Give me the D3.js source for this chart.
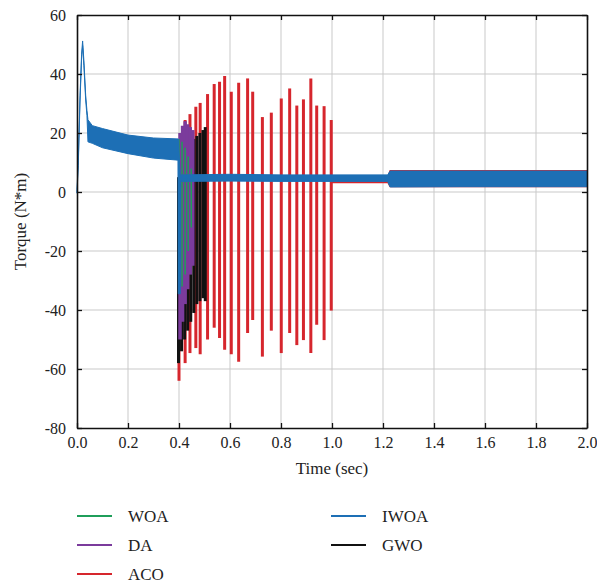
<!DOCTYPE html>
<html>
<head>
<meta charset="utf-8">
<script src="https://cdn.jsdelivr.net/npm/d3@7"></script>
<style>
  body { margin: 0; background: #fff; }
</style>
</head>
<body>
<div class="chart"></div>
<script>
var svgWidth = 597;
var svgHeight = 586;
var serif = "Liberation Serif, Times New Roman, serif";

var margin = { top: 15, right: 10, bottom: 158, left: 77 };
var width = svgWidth - margin.left - margin.right;
var height = svgHeight - margin.top - margin.bottom;

// tick labels
var xTicks = [0, 0.2, 0.4, 0.6, 0.8, 1.0, 1.2, 1.4, 1.6, 1.8, 2.0];
var yTicks = [-80, -60, -40, -20, 0, 20, 40, 60];

// IWOA envelope (upper / lower edge of the noisy trace)
var iwoaTime = [0, 0.005, 0.012, 0.018, 0.022, 0.027, 0.034, 0.039, 0.043, 0.06, 0.1, 0.2, 0.3, 0.396, 0.397, 0.405, 0.406, 0.6, 0.8, 1.0, 1.218, 1.228, 1.5, 2.0];
var iwoaHigh = [0.8, 10.6, 32.8, 46.7, 51.2, 44.5, 32.8, 27.6, 24.5, 22.5, 21.5, 19.3, 18.3, 18.0, 18.0, 5.8, 5.8, 6.0, 5.8, 5.8, 5.8, 7.1, 7.1, 7.1];
var iwoaLow  = [-0.4, 9.0, 31.2, 45.1, 49.6, 42.9, 31.2, 26.0, 17.0, 16.5, 15.0, 13.0, 11.5, 10.8, -34.5, -34.5, 3.6, 3.7, 3.6, 3.6, 3.6, 1.7, 1.8, 1.8];

// ACO steady trace after the oscillation (mostly hidden under IWOA)
var acoBandTime = [1.0, 1.218, 1.226, 2.0];
var acoBandHigh = [5.5, 5.5, 7.5, 7.5];
var acoBandLow  = [3.0, 3.0, 1.6, 1.6];

// ACO oscillation peaks: time, max, min
var acoTime = [0.400, 0.424, 0.443, 0.466, 0.483, 0.512, 0.538, 0.559, 0.579, 0.605, 0.634, 0.669, 0.689, 0.727, 0.762, 0.801, 0.834, 0.862, 0.888, 0.917, 0.940, 0.969, 0.997];
var acoHigh = [5, 24.4, 26.4, 28.9, 30.2, 33.2, 36.6, 37.4, 39.3, 34.0, 37.0, 38.5, 34.0, 25.4, 26.9, 31.7, 35.1, 29.3, 31.4, 38.5, 29.3, 29.1, 24.4];
var acoLow  = [-64, -58, -54.6, -52.9, -55, -50, -46, -49.5, -53.5, -55, -57.5, -47.8, -43.4, -55.8, -47, -54.6, -47.8, -51.9, -50.2, -54.6, -45, -50.2, -40.2];

// GWO oscillation
var gwoTime = [0.398, 0.41, 0.422, 0.434, 0.446, 0.458, 0.47, 0.482, 0.494, 0.503];
var gwoHigh = [5, 8, 10, 13, 16, 18, 19, 20, 21, 22];
var gwoLow  = [-58, -54, -50, -47, -44, -41, -38, -37, -36, -37];

// DA oscillation
var daTime = [0.404, 0.414, 0.424, 0.434, 0.444, 0.454];
var daHigh = [20, 22.5, 24, 23, 22, 21];
var daLow  = [-50, -44, -38, -33, -28, -25];

// WOA oscillation
var woaTime = [0.400, 0.412, 0.424, 0.436, 0.448];
var woaHigh = [18, 17, 15, 12, 8];
var woaLow  = [-30, -32, -28, -20, -12];

var names  = ["WOA", "DA", "ACO", "IWOA", "GWO"];
var colors = { WOA: "#1f9e5a", DA: "#7b3b9c", ACO: "#d6262d", IWOA: "#1d6fb5", GWO: "#111111" };

var svg = d3.select(".chart")
  .append("svg")
  .attr("width", svgWidth)
  .attr("height", svgHeight);

var chartGroup = svg.append("g")
  .attr("transform", `translate(${margin.left}, ${margin.top})`);

var xScale = d3.scaleLinear().domain([0, 2]).range([0, width]);
var yScale = d3.scaleLinear().domain([-80, 60]).range([height, 0]);

// grid
chartGroup.append("g")
  .selectAll("line")
  .data(xTicks.slice(1, -1))
  .enter()
  .append("line")
    .attr("x1", d => xScale(d)).attr("x2", d => xScale(d))
    .attr("y1", 0).attr("y2", height)
    .attr("stroke", "#c9c9c9").attr("stroke-width", 1);

chartGroup.append("g")
  .selectAll("line")
  .data(yTicks.slice(1, -1))
  .enter()
  .append("line")
    .attr("x1", 0).attr("x2", width)
    .attr("y1", d => yScale(d)).attr("y2", d => yScale(d))
    .attr("stroke", "#c9c9c9").attr("stroke-width", 1);

var plot = chartGroup.append("g");

function band(times, hi, lo) {
  return d3.area()
    .x((d, i) => xScale(times[i]))
    .y0((d, i) => yScale(lo[i]))
    .y1((d, i) => yScale(hi[i]))(times);
}

function spikes(times, hi, lo, color, w) {
  plot.append("g")
    .selectAll("line")
    .data(times)
    .enter()
    .append("line")
      .attr("x1", d => xScale(d)).attr("x2", d => xScale(d))
      .attr("y1", (d, i) => yScale(hi[i]))
      .attr("y2", (d, i) => yScale(lo[i]))
      .attr("stroke", color)
      .attr("stroke-width", w);
}

plot.append("path")
  .attr("d", band(acoBandTime, acoBandHigh, acoBandLow))
  .attr("fill", colors.ACO);

spikes(acoTime, acoHigh, acoLow, colors.ACO, 3);
spikes(gwoTime, gwoHigh, gwoLow, colors.GWO, 3);
spikes(daTime, daHigh, daLow, colors.DA, 3.5);
spikes(woaTime, woaHigh, woaLow, colors.WOA, 1.5);

plot.append("path")
  .attr("d", band(iwoaTime, iwoaHigh, iwoaLow))
  .attr("fill", colors.IWOA)
  .attr("stroke", colors.IWOA)
  .attr("stroke-width", 1)
  .attr("stroke-linejoin", "round");

// axes: box with inward ticks
var bottomAxis = d3.axisBottom(xScale).tickValues(xTicks).tickFormat(d3.format(".1f")).tickSizeInner(-5).tickSizeOuter(0).tickPadding(9);
var leftAxis = d3.axisLeft(yScale).tickValues(yTicks).tickFormat(d => d).tickSizeInner(-5).tickSizeOuter(0).tickPadding(11);
var topAxis = d3.axisTop(xScale).tickValues(xTicks).tickFormat("").tickSizeInner(-5).tickSizeOuter(0);
var rightAxis = d3.axisRight(yScale).tickValues(yTicks).tickFormat("").tickSizeInner(-5).tickSizeOuter(0);

var gx = chartGroup.append("g").attr("transform", `translate(0, ${height})`).call(bottomAxis);
var gy = chartGroup.append("g").call(leftAxis);
var gt = chartGroup.append("g").call(topAxis);
var gr = chartGroup.append("g").attr("transform", `translate(${width}, 0)`).call(rightAxis);

[gx, gy, gt, gr].forEach(function(g) {
  g.attr("font-family", serif).attr("font-size", 16);
  g.selectAll("path").attr("stroke", "#111").attr("stroke-width", 1.6);
  g.selectAll("line").attr("stroke", "#111").attr("stroke-width", 1.3);
  g.selectAll("text").attr("fill", "#222");
});

chartGroup.append("text")
  .attr("transform", "rotate(-90)")
  .attr("x", 0 - (height / 2))
  .attr("y", 0 - margin.left + 26)
  .attr("text-anchor", "middle")
  .attr("font-family", serif)
  .attr("font-size", 17)
  .attr("fill", "#222")
  .text("Torque (N*m)");

chartGroup.append("text")
  .attr("x", width / 2)
  .attr("y", height + 46)
  .attr("text-anchor", "middle")
  .attr("font-family", serif)
  .attr("font-size", 17)
  .attr("fill", "#222")
  .text("Time (sec)");

// legend
var legendPos = {
  WOA: [77, 516], DA: [77, 545], ACO: [77, 574],
  IWOA: [331, 516], GWO: [331, 545]
};

var legend = svg.append("g");
names.forEach(function(n) {
  var p = legendPos[n];
  legend.append("line")
    .attr("x1", p[0]).attr("x2", p[0] + 35)
    .attr("y1", p[1]).attr("y2", p[1])
    .attr("stroke", colors[n]).attr("stroke-width", 1.8);
  legend.append("text")
    .attr("x", p[0] + 51)
    .attr("y", p[1] + 5.5)
    .attr("font-family", serif)
    .attr("font-size", 17)
    .attr("fill", "#222")
    .text(n);
});
</script>
</body>
</html>
